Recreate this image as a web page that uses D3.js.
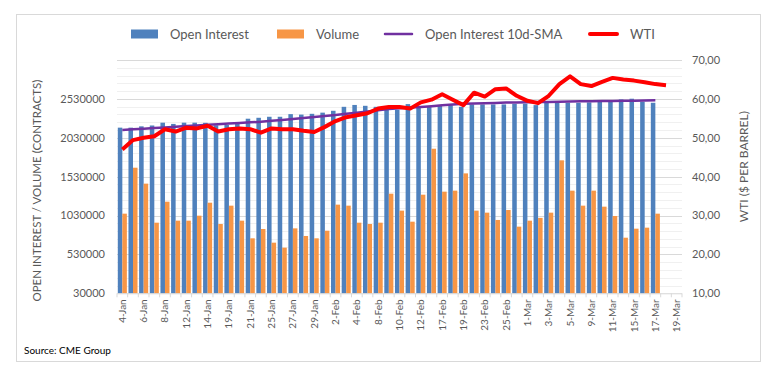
<!DOCTYPE html>
<html>
<head>
<meta charset="utf-8">
<script src="https://cdn.jsdelivr.net/npm/d3@7"></script>
<style>
body { margin: 0; background: #fff; }
svg { font-family: Lato, "Open Sans", sans-serif; }
</style>
</head>
<body>
<svg id="chart" width="780" height="377"></svg>
<script>
// categories (trading days)
var dates = ["4-Jan","5-Jan","6-Jan","7-Jan","8-Jan","11-Jan","12-Jan","13-Jan","14-Jan","15-Jan",
  "19-Jan","20-Jan","21-Jan","22-Jan","25-Jan","26-Jan","27-Jan","28-Jan","29-Jan",
  "1-Feb","2-Feb","3-Feb","4-Feb","5-Feb","8-Feb","9-Feb","10-Feb","11-Feb","12-Feb",
  "16-Feb","17-Feb","18-Feb","19-Feb","22-Feb","23-Feb","24-Feb","25-Feb","26-Feb",
  "1-Mar","2-Mar","3-Mar","4-Mar","5-Mar","8-Mar","9-Mar","10-Mar","11-Mar","12-Mar",
  "15-Mar","16-Mar","17-Mar","18-Mar","19-Mar"];

var openInterest = [2160000,2160000,2177000,2188000,2224000,2208000,2224000,2224000,2222000,2190000,
  2195000,2215000,2275000,2287000,2300000,2300000,2334000,2328000,2338000,
  2353000,2377000,2428000,2452000,2441000,2428000,2418000,2390000,2463000,2428000,
  2428000,2450000,2450000,2428000,2459000,2459000,2459000,2459000,2467000,
  2467000,2450000,2480000,2480000,2480000,2480000,2485000,2493000,2493000,2523000,
  2532000,2493000,2480000];

var volume = [1054000,1645000,1440000,938000,1208000,964000,964000,1028000,1195000,921000,
  1157000,964000,737000,857000,681000,617000,865000,767000,737000,
  835000,1170000,1157000,938000,921000,938000,1311000,1093000,951000,1298000,
  1889000,1337000,1350000,1572000,1093000,1067000,973000,1101000,887000,
  964000,1000000,1067000,1740000,1350000,1157000,1350000,1144000,1024000,745000,
  861000,874000,1054000];

var oiSma = [2130000,2138000,2146000,2155000,2163000,2171000,2180000,2188000,2196000,2204000,
  2212000,2220000,2228000,2236000,2248000,2260000,2272000,2285000,2297000,
  2310000,2322000,2338000,2353000,2369000,2384000,2400000,2410000,2418000,2426000,
  2436000,2448000,2458000,2466000,2470000,2474000,2478000,2482000,2485000,
  2487000,2489000,2491000,2494000,2496000,2498000,2500000,2502000,2504000,2506000,
  2507000,2509000,2511000];

var wti = [47.0,49.4,50.0,50.4,52.2,51.6,52.6,52.4,53.1,51.6,
  52.2,52.4,52.2,51.3,52.4,52.2,52.2,51.8,51.5,
  52.8,54.3,55.3,55.8,56.3,57.5,57.9,57.9,57.5,59.1,
  59.8,61.2,59.8,58.4,61.6,60.6,62.5,62.7,60.8,
  59.5,58.9,60.8,63.8,65.8,63.8,63.3,64.4,65.4,65.0,
  64.7,64.3,63.8,63.5];

var leftTicks = [30000,530000,1030000,1530000,2030000,2530000];
var rightTicks = [10,20,30,40,50,60,70];

var svg = d3.select("#chart"),
  plot = {left: 117, right: 682, top: 60, bottom: 293.3},
  textColor = "#595959";

// frame
svg.append("rect")
  .attr("x", 16.5).attr("y", 14.5)
  .attr("width", 744).attr("height", 347)
  .attr("fill", "#fff")
  .attr("stroke", "#d9d9d9");

var x0 = d3.scaleBand()
  .domain(dates)
  .range([plot.left, plot.right])
  .paddingInner(0.15)
  .paddingOuter(0.075);

var x1 = d3.scaleBand()
  .domain(["oi", "vol"])
  .range([0, x0.bandwidth()]);

var step = x0.step();
function cx(i) { return x0(dates[i]) + x0.bandwidth() / 2; }

var y = d3.scaleLinear().domain([30000, 3030000]).range([plot.bottom, plot.top]);
var y2 = d3.scaleLinear().domain([10, 70]).range([plot.bottom, plot.top]);

// minor + major gridlines
var g = svg.append("g");
g.selectAll(".minor")
  .data(d3.range(30000, 3030001, 100000))
  .enter().append("line")
  .attr("x1", plot.left).attr("x2", plot.right)
  .attr("y1", function(d) { return Math.round(y(d)) + 0.5; })
  .attr("y2", function(d) { return Math.round(y(d)) + 0.5; })
  .attr("stroke", "#f0f0f0");

g.selectAll(".major")
  .data(d3.range(530000, 3030001, 500000))
  .enter().append("line")
  .attr("x1", plot.left).attr("x2", plot.right)
  .attr("y1", function(d) { return Math.round(y(d)) + 0.5; })
  .attr("y2", function(d) { return Math.round(y(d)) + 0.5; })
  .attr("stroke", "#d9d9d9");

// bars
var barData = openInterest.map(function(v, i) { return {i: i, oi: v, vol: volume[i]}; });

var groups = svg.append("g")
  .selectAll("g")
  .data(barData)
  .enter().append("g")
  .attr("transform", function(d) { return "translate(" + x0(dates[d.i]) + ",0)"; });

groups.selectAll("rect")
  .data(function(d) { return [{key: "oi", value: d.oi}, {key: "vol", value: d.vol}]; })
  .enter().append("rect")
  .attr("x", function(d) { return x1(d.key); })
  .attr("y", function(d) { return y(d.value); })
  .attr("width", x1.bandwidth())
  .attr("height", function(d) { return y(30000) - y(d.value); })
  .attr("fill", function(d) { return d.key == "oi" ? "#4f81bd" : "#f79646"; });

// x axis line + ticks
svg.append("line")
  .attr("x1", plot.left).attr("x2", plot.right)
  .attr("y1", plot.bottom + 0.5).attr("y2", plot.bottom + 0.5)
  .attr("stroke", "#d9d9d9");

svg.append("g")
  .selectAll("line")
  .data(d3.range(dates.length + 1))
  .enter().append("line")
  .attr("x1", function(i) { return plot.left + i * step; })
  .attr("x2", function(i) { return plot.left + i * step; })
  .attr("y1", plot.bottom).attr("y2", plot.bottom + 4)
  .attr("stroke", "#d9d9d9");

svg.append("g")
  .selectAll("text")
  .data(dates.filter(function(d, i) { return i % 2 == 0; }))
  .enter().append("text")
  .attr("transform", function(d) { return "translate(" + (x0(d) + x0.bandwidth() / 2 + 3.5) + "," + (plot.bottom + 6) + ") rotate(-90)"; })
  .attr("text-anchor", "end")
  .attr("font-size", 10)
  .attr("fill", textColor)
  .text(function(d) { return d; });

// SMA line
var line = d3.line()
  .x(function(d, i) { return cx(i); })
  .y(function(d) { return y(d); });

svg.append("path")
  .datum(oiSma)
  .attr("d", line)
  .attr("fill", "none")
  .attr("stroke", "#7030a0")
  .attr("stroke-width", 2.5);

// WTI line
var line2 = d3.line()
  .x(function(d, i) { return cx(i); })
  .y(function(d) { return y2(d); });

svg.append("path")
  .datum(wti)
  .attr("d", line2)
  .attr("fill", "none")
  .attr("stroke", "#ff0000")
  .attr("stroke-width", 4)
  .attr("stroke-linejoin", "round");

// left axis labels
svg.append("g")
  .selectAll("text")
  .data(leftTicks)
  .enter().append("text")
  .attr("x", 105)
  .attr("y", function(d) { return y(d); })
  .attr("dy", "0.35em")
  .attr("text-anchor", "end")
  .attr("font-size", 11)
  .attr("fill", textColor)
  .text(function(d) { return d; });

// right axis labels
svg.append("g")
  .selectAll("text")
  .data(rightTicks)
  .enter().append("text")
  .attr("x", 692)
  .attr("y", function(d) { return y2(d); })
  .attr("dy", "0.35em")
  .attr("font-size", 11)
  .attr("fill", textColor)
  .text(function(d) { return d3.format(".2f")(d).replace(".", ","); });

// axis titles
svg.append("text")
  .attr("transform", "translate(41," + ((plot.top + plot.bottom) / 2 + 14) + ") rotate(-90)")
  .attr("text-anchor", "middle")
  .attr("font-size", 11.5)
  .attr("fill", textColor)
  .text("OPEN INTEREST / VOLUME (CONTRACTS)");

svg.append("text")
  .attr("transform", "translate(748," + ((plot.top + plot.bottom) / 2 - 10) + ") rotate(-90)")
  .attr("text-anchor", "middle")
  .attr("font-size", 12)
  .attr("fill", textColor)
  .text("WTI ($ PER BARREL)");

// legend
var legendItems = [
  {name: "Open Interest", type: "rect", color: "#4f81bd", x: 131},
  {name: "Volume", type: "rect", color: "#f79646", x: 277},
  {name: "Open Interest 10d-SMA", type: "line", color: "#7030a0", x: 385},
  {name: "WTI", type: "line", color: "#ff0000", x: 590}
];

var legend = svg.append("g")
  .selectAll("g")
  .data(legendItems)
  .enter().append("g")
  .attr("transform", function(d) { return "translate(" + d.x + ",34)"; });

legend.filter(function(d) { return d.type == "rect"; })
  .append("rect")
  .attr("y", -4.5)
  .attr("width", 27)
  .attr("height", 9)
  .attr("fill", function(d) { return d.color; });

legend.filter(function(d) { return d.type == "line"; })
  .append("line")
  .attr("x2", 27)
  .attr("stroke", function(d) { return d.color; })
  .attr("stroke-width", function(d) { return d.name == "WTI" ? 4 : 2.5; })
  .attr("stroke-linecap", "round");

legend.append("text")
  .attr("x", function(d) { return d.type == "rect" ? 39 : 40; })
  .attr("dy", "0.35em")
  .attr("font-size", 13)
  .attr("fill", textColor)
  .text(function(d) { return d.name; });

// source
svg.append("text")
  .attr("x", 24)
  .attr("y", 354)
  .attr("font-size", 10)
  .attr("fill", "#000")
  .text("Source: CME Group");
</script>
</body>
</html>
